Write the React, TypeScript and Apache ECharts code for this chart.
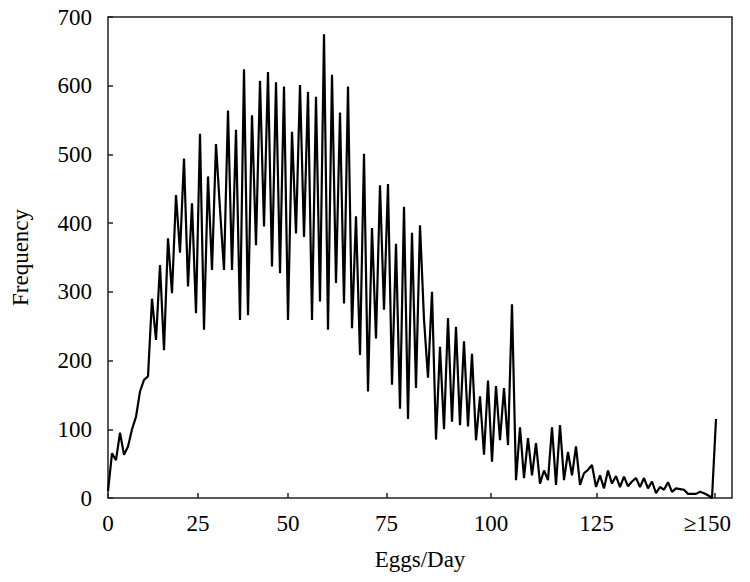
import React, { useEffect, useRef } from "react";
import * as echarts from "echarts";

// Frequency per histogram bin (bins are evenly spaced along the plotted axis)
const freqRise = [10, 65, 55, 95, 63, 75, 100, 118, 155, 172, 177, 290, 230, 339, 215, 378, 298, 441, 357, 494, 308, 429, 269, 530, 245, 468, 332, 515, 420];
const freqPeak = [332, 564, 332, 536, 259, 624, 266, 557, 368, 607, 395, 620, 337, 605, 327, 599, 259, 533, 385, 601, 380, 591, 259, 584, 286, 675, 245, 616, 313, 561, 283, 599, 247, 410, 208, 501, 155, 393, 232, 455, 274, 457];
const freqDecline = [165, 370, 130, 424, 115, 386, 160, 397, 260, 175, 300, 85, 220, 100, 262, 111, 249, 106, 228, 104, 210, 84, 148, 63, 171, 53, 163, 84, 160, 77, 282, 26, 103, 29, 87, 33, 80, 21, 40, 26, 103, 19, 106, 26, 67, 33, 75];
const freqTail = [19, 36, 41, 48, 16, 33, 14, 40, 21, 32, 16, 31, 17, 24, 29, 16, 29, 14, 24, 7, 16, 12, 23, 9, 14, 13, 12, 6, 6, 6, 9, 7, 4, 0, 115];

// Axis tick positions (in bin units) and their Eggs/Day labels
const tickBins = [0, 22.5, 45, 69.6, 95.75, 122.1, 151.6];
const tickLabels = ["0", "25", "50", "75", "100", "125", "≥150"];

const FONT = "'Liberation Serif', 'Times New Roman', Times, serif";
const FS = 23;

export default function App() {
  const ref = useRef<HTMLDivElement>(null);
  useEffect(() => {
    if (!ref.current) return;
    const chart = echarts.init(ref.current, null, { renderer: "svg" });
    const all = [...freqRise, ...freqPeak, ...freqDecline, ...freqTail];
    const data = all.map((v, i) => [i, v]);
    const labelFor = (v: number) => {
      let best = 0;
      for (let i = 0; i < tickBins.length; i++) {
        if (Math.abs(tickBins[i] - v) < Math.abs(tickBins[best] - v)) best = i;
      }
      return best;
    };
    chart.setOption({
      animation: false,
      grid: {
        show: true,
        borderColor: "#222",
        borderWidth: 1.5,
        left: 108,
        right: 18,
        top: 17,
        bottom: 84,
      },
      xAxis: {
        type: "value",
        min: 0,
        max: 156,
        axisLine: { show: false },
        splitLine: { show: false },
        axisTick: {
          inside: true,
          length: 5,
          customValues: tickBins,
          lineStyle: { color: "#222", width: 1.5 },
        },
        axisLabel: {
          customValues: tickBins,
          fontFamily: FONT,
          fontSize: FS,
          color: "#000",
          margin: 14,
          formatter: (v: number) => {
            const i = labelFor(v);
            return i === tickLabels.length - 1 ? "{s|" + tickLabels[i] + "}" : tickLabels[i];
          },
          rich: {
            s: { fontFamily: FONT, fontSize: FS, color: "#000", padding: [0, 14, 0, 0] },
          },
        },
        name: "Eggs/Day",
        nameLocation: "middle",
        nameGap: 50,
        nameTextStyle: { fontFamily: FONT, fontSize: FS, color: "#000" },
      },
      yAxis: {
        type: "value",
        min: 0,
        max: 700,
        interval: 100,
        axisLine: { show: false },
        splitLine: { show: false },
        axisTick: { inside: true, length: 5, lineStyle: { color: "#222", width: 1.5 } },
        axisLabel: { fontFamily: FONT, fontSize: FS, color: "#000", margin: 16 },
        name: "Frequency",
        nameLocation: "middle",
        nameGap: 76,
        nameRotate: 90,
        nameTextStyle: { fontFamily: FONT, fontSize: FS, color: "#000" },
      },
      series: [
        {
          type: "line",
          data,
          showSymbol: false,
          lineStyle: { color: "#000", width: 2.2 },
          clip: true,
        },
      ],
    });
    return () => chart.dispose();
  }, []);
  return (
    <div
      ref={ref}
      style={{ position: "fixed", left: 0, top: 0, width: 750, height: 582, background: "#fff" }}
    />
  );
}
